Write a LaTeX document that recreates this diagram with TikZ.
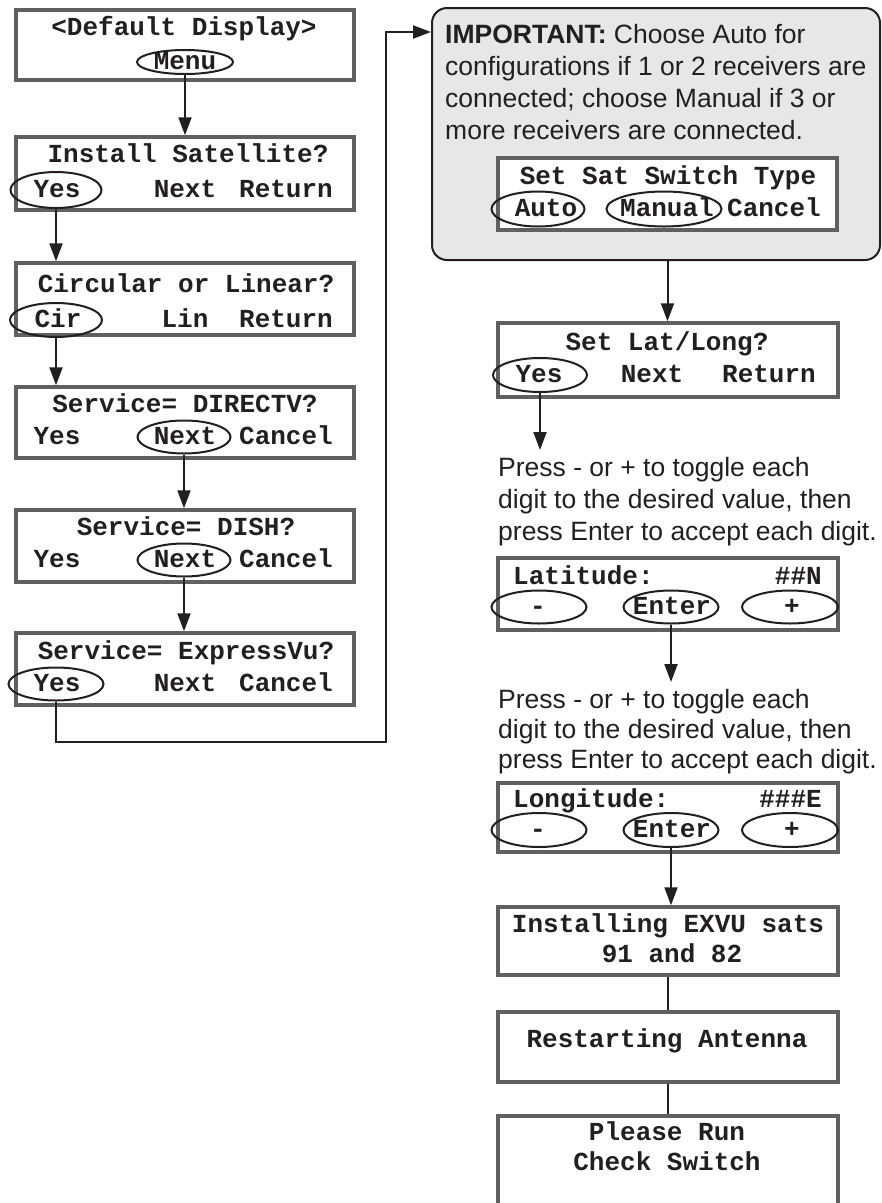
\documentclass[tikz,border=0pt]{standalone}
\usepackage{fontspec}
\setmainfont{Liberation Sans}
\newfontfamily\lcdfont{Liberation Mono}
\usetikzlibrary{shapes.geometric,arrows.meta}
\definecolor{boxgray}{HTML}{5F6062}
\definecolor{impfill}{HTML}{E6E7E8}
\definecolor{ink}{HTML}{231F20}
\tikzset{
  lcdbox/.style={draw=boxgray, line width=3.5pt, fill=white, inner sep=0pt, rectangle},
  lbl/.style={font=\lcdfont\bfseries\fontsize{26}{34}\selectfont, text=ink, inner sep=0pt, text height=15pt, text depth=0pt},
  btn/.style={ellipse, draw=ink, line width=2pt, inner sep=0pt},
  arr/.style={draw=ink, line width=2pt, -{Triangle[length=18pt,width=13pt]}},
  conn/.style={draw=ink, line width=2pt},
  note/.style={font=\fontsize{26.5}{32}\selectfont, text=ink, align=left, inner sep=0pt, anchor=north west}
}
\begin{document}
\begin{tikzpicture}[x=1pt,y=-1pt]
\clip (0,0) rectangle (882,1203);
\fill[white] (0,0) rectangle (882,1203);

% ---------- left column boxes ----------
\node[lcdbox, minimum width=338pt, minimum height=70pt] (b1) at (185,45) {};
\node[lcdbox, minimum width=338pt, minimum height=73pt] (b2) at (185,173.5) {};
\node[lcdbox, minimum width=338pt, minimum height=72pt] (b3) at (185,299) {};
\node[lcdbox, minimum width=338pt, minimum height=71pt] (b4) at (185,422.5) {};
\node[lcdbox, minimum width=338pt, minimum height=72pt] (b5) at (185,546) {};
\node[lcdbox, minimum width=338pt, minimum height=72pt] (b6) at (185,669) {};

\node[lbl] (b1t) at (184,28) {<Default Display>};
\node[btn, minimum width=96pt, minimum height=24pt] (menu) at (185,62) {};
\node[lbl] (menut) at (185,62) {Menu};

\node[lbl] (b2t) at (188,155) {Install Satellite?};
\node[btn, minimum width=91pt, minimum height=36pt] (yes2) at (56,190) {};
\node[lbl] (yes2t) at (57,190) {Yes};
\node[lbl] (b2n) at (185,190) {Next};
\node[lbl] (b2r) at (286,190) {Return};

\node[lbl] (b3t) at (186,285) {Circular or Linear?};
\node[btn, minimum width=92pt, minimum height=34pt] (cir) at (56,320) {};
\node[lbl] (cirt) at (58,320) {Cir};
\node[lbl] (b3l) at (185,320) {Lin};
\node[lbl] (b3r) at (286,320) {Return};

\node[lbl] (b4t) at (185,405) {Service= DIRECTV?};
\node[lbl] (b4y) at (57,437) {Yes};
\node[btn, minimum width=93pt, minimum height=33pt] (next4) at (184,437) {};
\node[lbl] (next4t) at (185,437) {Next};
\node[lbl] (b4c) at (286,437) {Cancel};

\node[lbl] (b5t) at (186,528) {Service= DISH?};
\node[lbl] (b5y) at (57,560) {Yes};
\node[btn, minimum width=93pt, minimum height=33pt] (next5) at (184,560) {};
\node[lbl] (next5t) at (185,560) {Next};
\node[lbl] (b5c) at (286,560) {Cancel};

\node[lbl] (b6t) at (186,652) {Service= ExpressVu?};
\node[btn, minimum width=95pt, minimum height=33pt] (yes6) at (56,684) {};
\node[lbl] (yes6t) at (57,684) {Yes};
\node[lbl] (b6n) at (185,684) {Next};
\node[lbl] (b6c) at (286,684) {Cancel};

% ---------- important box ----------
\node[draw=ink, line width=2pt, fill=impfill, rounded corners=15pt, minimum width=448pt, minimum height=252pt, inner sep=0pt] (imp) at (656,134) {};
\node[note] (impt) at (445,24) {\textbf{IMPORTANT:} Choose Auto for\\configurations if 1 or 2 receivers are\\connected; choose Manual if 3 or\\more receivers are connected.};
\node[lcdbox, minimum width=339pt, minimum height=72pt] (ss) at (667.5,194) {};
\node[lbl] (sst) at (668,177) {Set Sat Switch Type};
\node[btn, minimum width=93pt, minimum height=35pt] (auto) at (538,209) {};
\node[lbl] (autot) at (546,209) {Auto};
\node[btn, minimum width=115pt, minimum height=35pt] (manual) at (664,209) {};
\node[lbl] (manualt) at (667,209) {Manual};
\node[lbl] (ssc) at (774,209) {Cancel};

% ---------- right column ----------
\node[lcdbox, minimum width=340pt, minimum height=74pt] (ll) at (668,360) {};
\node[lbl] (llt) at (667,343) {Set Lat/Long?};
\node[btn, minimum width=94pt, minimum height=34pt] (yesll) at (540,375) {};
\node[lbl] (yesllt) at (539,375) {Yes};
\node[lbl] (lln) at (652,375) {Next};
\node[lbl] (llr) at (769,375) {Return};

\node[note] (p1) at (498,457) {Press - or + to toggle each\\digit to the desired value, then\\press Enter to accept each digit.};

\node[lcdbox, minimum width=340pt, minimum height=72pt] (lat) at (668,594) {};
\node[lbl, anchor=west] (latt) at (513,577) {Latitude:};
\node[lbl, anchor=east] (latv) at (822,577) {\#\#N};
\node[btn, minimum width=95pt, minimum height=33pt] (latm) at (539,607) {};
\node[lbl] (latmt) at (538,607) {-};
\node[btn, minimum width=95pt, minimum height=33pt] (late) at (671,607) {};
\node[lbl] (latet) at (672,607) {Enter};
\node[btn, minimum width=96pt, minimum height=33pt] (latp) at (790,607) {};
\node[lbl] (latpt) at (792,607) {+};

\node[note, font=\fontsize{26.5}{30}\selectfont] (p2) at (498,689) {Press - or + to toggle each\\digit to the desired value, then\\press Enter to accept each digit.};

\node[lcdbox, minimum width=340pt, minimum height=69pt] (lon) at (668,817.5) {};
\node[lbl, anchor=west] (lont) at (513,800) {Longitude:};
\node[lbl, anchor=east] (lonv) at (822,800) {\#\#\#E};
\node[btn, minimum width=95pt, minimum height=34pt] (lonm) at (539,830) {};
\node[lbl] (lonmt) at (538,830) {-};
\node[btn, minimum width=95pt, minimum height=34pt] (lone) at (671,830) {};
\node[lbl] (lonet) at (672,830) {Enter};
\node[btn, minimum width=96pt, minimum height=34pt] (lonp) at (790,830) {};
\node[lbl] (lonpt) at (792,830) {+};

\node[lcdbox, minimum width=340pt, minimum height=68pt] (inst) at (668,941) {};
\node[lbl] (inst1) at (668,925) {Installing EXVU sats};
\node[lbl] (inst2) at (672,955) {91 and 82};

\node[lcdbox, minimum width=340pt, minimum height=70pt] (rest) at (668,1047) {};
\node[lbl] (restt) at (667,1040) {Restarting Antenna};

\node[lcdbox, minimum width=340pt, minimum height=110pt] (pr) at (668,1171) {};
\node[lbl] (pr1) at (667,1133) {Please Run};
\node[lbl] (pr2) at (667,1163) {Check Switch};

% ---------- connectors ----------
\coordinate (r1) at (386,742);
\coordinate (r2) at (386,32);
\coordinate (a1) at (540,450);
\coordinate (a2) at (671,682);

\draw[arr] (menu.south) -- (b2.north);
\draw[arr] (yes2.south) -- (yes2.south |- b3.north);
\draw[arr] (cir.south) -- (cir.south |- b4.north);
\draw[arr] (next4.south) -- (next4.south |- b5.north);
\draw[arr] (next5.south) -- (next5.south |- b6.north);
\draw[arr] (yes6.south) |- (r1) -- (r2) -- (r2 -| imp.west);
\draw[arr] (imp.south -| ss.center) -- (ss.center |- ll.north);
\draw[arr] (yesll.south) -- (a1);
\draw[arr] (late.south) -- (a2);
\draw[arr] (lone.south) -- (lone.south |- inst.north);
\draw[conn] (inst.south) -- (rest.north);
\draw[conn] (rest.south) -- (pr.north);
\end{tikzpicture}
\end{document}
